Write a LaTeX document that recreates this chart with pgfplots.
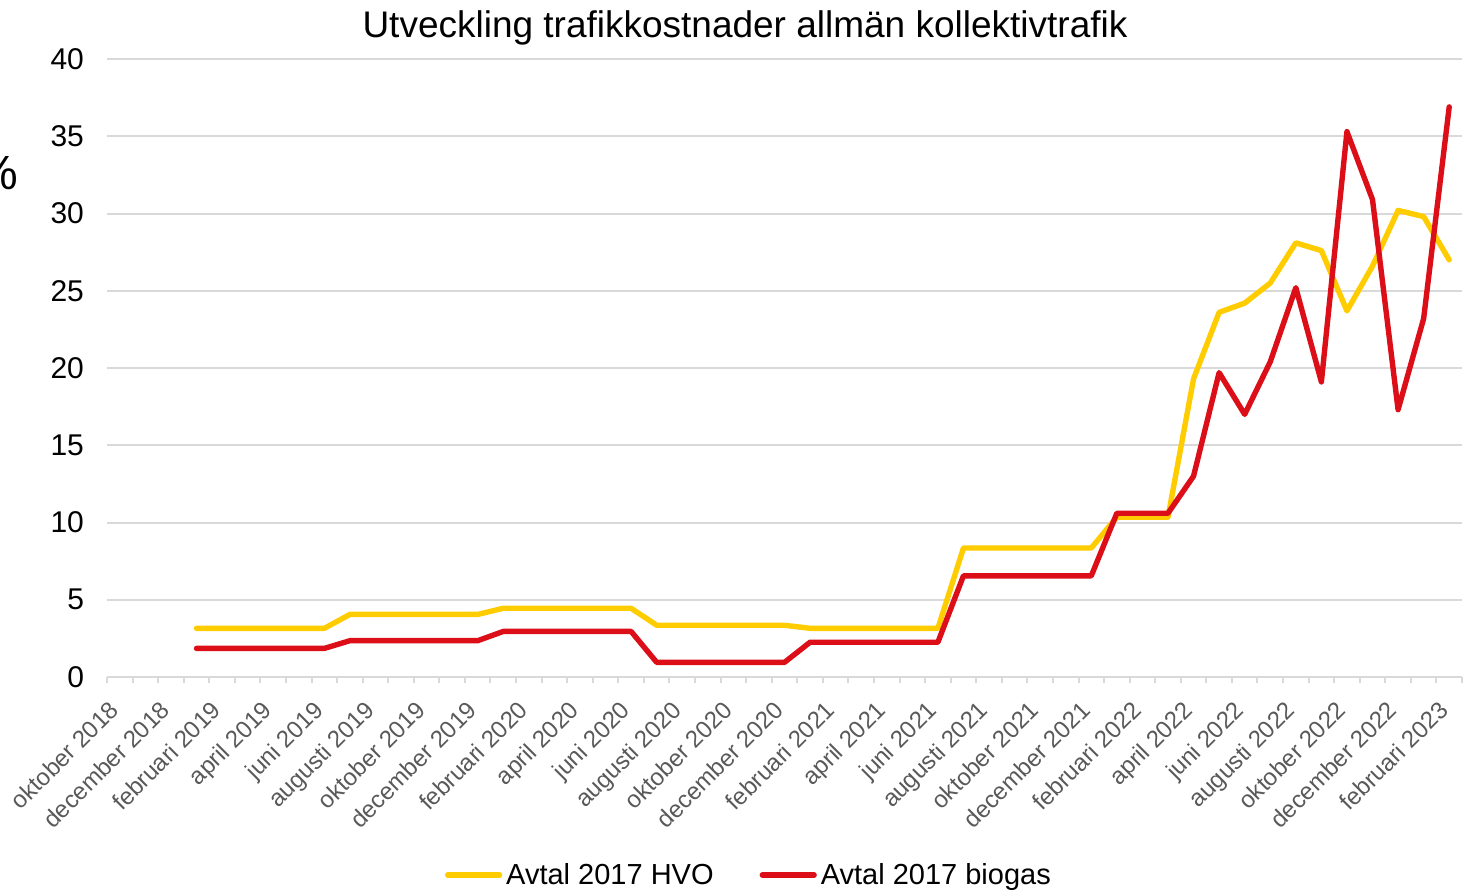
\documentclass[border=0pt]{standalone}
\usepackage{fontspec}
\setmainfont{Liberation Sans}
\usepackage{pgfplots}
\pgfplotsset{compat=1.18}
\usepackage{pgfplotstable}
\definecolor{hvo}{HTML}{FFCC00}
\definecolor{bio}{HTML}{DC0F19}
\definecolor{gridc}{HTML}{D9D9D9}
\definecolor{labc}{HTML}{595959}
\pgfplotstableread{
x hvo bio
3 3.15 1.85
4 3.15 1.85
5 3.15 1.85
6 3.15 1.85
7 3.15 1.85
8 3.15 1.85
9 4.05 2.35
10 4.05 2.35
11 4.05 2.35
12 4.05 2.35
13 4.05 2.35
14 4.05 2.35
15 4.45 2.95
16 4.45 2.95
17 4.45 2.95
18 4.45 2.95
19 4.45 2.95
20 4.45 2.95
21 3.35 0.95
22 3.35 0.95
23 3.35 0.95
24 3.35 0.95
25 3.35 0.95
26 3.35 0.95
27 3.15 2.25
28 3.15 2.25
29 3.15 2.25
30 3.15 2.25
31 3.15 2.25
32 3.15 2.25
33 8.35 6.55
34 8.35 6.55
35 8.35 6.55
36 8.35 6.55
37 8.35 6.55
38 8.35 6.55
39 10.35 10.6
40 10.35 10.6
41 10.35 10.6
42 19.3 13.0
43 23.6 19.7
44 24.2 17.0
45 25.5 20.4
46 28.1 25.2
47 27.6 19.1
48 23.7 35.3
49 26.6 30.9
50 30.2 17.3
51 29.8 23.2
52 27.0 36.9
}\data
\begin{document}
\begin{tikzpicture}
\useasboundingbox (0,0) rectangle (734pt,445pt);
\begin{axis}[
  scale only axis,
  width=677.5pt, height=309pt,
  at={(53.5pt,106.5pt)}, anchor=south west,
  xmin=-0.5, xmax=52.5, ymin=0, ymax=40,
  ytick={0,5,...,40},
  xtick={0,2,...,52},
  xticklabels={oktober 2018,december 2018,februari 2019,april 2019,juni 2019,augusti 2019,oktober 2019,december 2019,februari 2020,april 2020,juni 2020,augusti 2020,oktober 2020,december 2020,februari 2021,april 2021,juni 2021,augusti 2021,oktober 2021,december 2021,februari 2022,april 2022,juni 2022,augusti 2022,oktober 2022,december 2022,februari 2023},
  minor xtick={-0.5,0.5,...,52.5},
  tick align=outside,
  major tick length=0pt,
  minor tick length=3pt,
  minor x tick style={draw=gridc, line width=1pt},
  axis x line*=bottom, axis y line*=left,
  x axis line style={draw=gridc, line width=1pt, -},
  y axis line style={draw=none},
  ymajorgrids,
  grid style={draw=gridc, line width=1pt},
  /pgf/number format/assume math mode=true,
  yticklabel style={font=\fontsize{15}{17}\selectfont, text=black, xshift=-8pt},
  xticklabel style={font=\fontsize{12}{14}\selectfont, text=labc, rotate=45, anchor=north east, inner sep=0pt, yshift=-3.5pt, xshift=-12pt},
  legend style={at={(0.4745,-0.3204)}, anchor=center, draw=none, fill=none,
    legend columns=2, font=\fontsize{14.5}{17}\selectfont,
    /tikz/every even column/.append style={column sep=21pt},
    nodes={inner sep=2pt}},
  legend image code/.code={\draw[#1, line width=2.6pt, line cap=round] (0pt,0pt) -- (26pt,0pt);},
]
\addplot[hvo, line width=2.7pt, line join=round, line cap=round] table[x=x, y=hvo] {\data};
\addlegendentry{Avtal 2017 HVO}
\addplot[bio, line width=2.7pt, line join=round, line cap=round] table[x=x, y=bio] {\data};
\addlegendentry{Avtal 2017 biogas}
\end{axis}
\node[font=\fontsize{18.5}{22}\selectfont, anchor=base] at (372.5pt,426pt) {Utveckling trafikkostnader allmän kollektivtrafik};
\node[font=\fontsize{24}{28}\selectfont, anchor=base east, inner sep=0pt] at (9.5pt,350pt) {\%};
\end{tikzpicture}
\end{document}
